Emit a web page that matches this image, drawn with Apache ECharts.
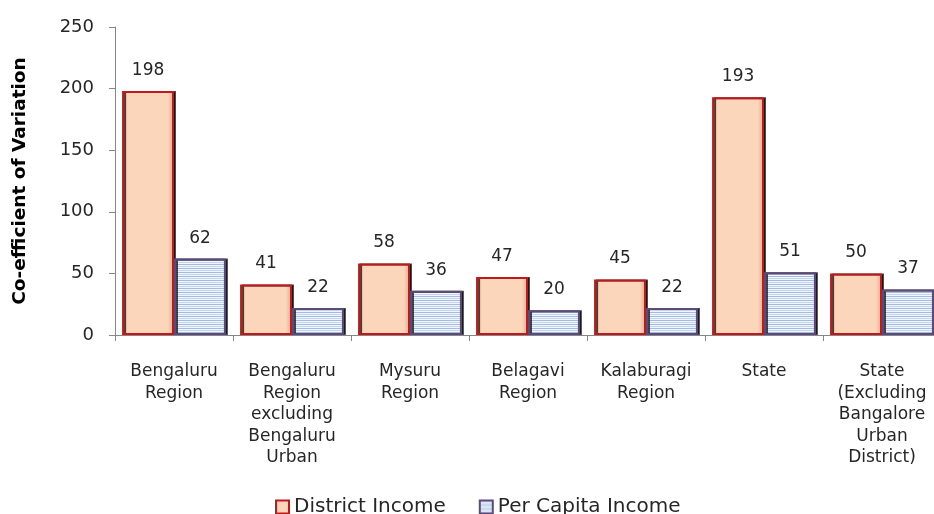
<!DOCTYPE html>
<html><head><meta charset="utf-8">
<script src="https://cdn.jsdelivr.net/npm/echarts@6/dist/echarts.min.js"></script>
<style>html,body{margin:0;padding:0;background:#fff;overflow:hidden}#c{width:934px;height:514px}</style>
</head><body><div id="c"></div>
<script>
var categories = ["Bengaluru\nRegion", "Bengaluru\nRegion\nexcluding\nBengaluru\nUrban", "Mysuru\nRegion", "Belagavi\nRegion", "Kalaburagi\nRegion", "State", "State\n(Excluding\nBangalore\nUrban\nDistrict)"];
var districtIncome = [198, 41, 58, 47, 45, 193, 50];
var perCapitaIncome = [62, 22, 36, 20, 22, 51, 37];
var seriesNames = ["District Income", "Per Capita Income"];
var yTicks = [0, 50, 100, 150, 200, 250];

function stripePattern() {
  var c = document.createElement('canvas');
  c.width = 4; c.height = 4;
  var g = c.getContext('2d');
  g.fillStyle = '#f2f6fc'; g.fillRect(0, 0, 4, 4);
  g.fillStyle = '#9fbde2'; g.fillRect(0, 0, 4, 1);
  g.fillStyle = '#c3d6ee'; g.fillRect(0, 2, 4, 1);
  return c;
}
var FONT = 'DejaVu Sans';
var chart = echarts.init(document.getElementById('c'));
chart.setOption({
  animation: false,
  textStyle: {fontFamily: FONT, color: '#262626'},
  grid: {left: 115, right: -7, top: 27, bottom: 179, containLabel: false, outerBoundsMode: 'none'},
  legend: {
    top: 492, left: 270, itemWidth: 13, itemHeight: 13, itemGap: 33, icon: 'rect',
    textStyle: {fontSize: 20, color: '#262626', fontFamily: FONT},
    data: seriesNames
  },
  xAxis: {
    type: 'category', data: categories,
    axisLine: {lineStyle: {color: '#868686', width: 1}},
    axisTick: {show: true, length: 6, lineStyle: {color: '#868686'}},
    axisLabel: {interval: 0, fontSize: 17, lineHeight: 21.5, color: '#262626', margin: 26, fontFamily: FONT}
  },
  yAxis: {
    type: 'value', min: yTicks[0], max: yTicks[yTicks.length - 1], interval: 50,
    name: 'Co-efficient of Variation', nameLocation: 'middle', nameGap: 85,
    nameTextStyle: {fontSize: 18.5, fontWeight: 'bold', color: '#000', fontFamily: FONT},
    axisLine: {show: true, lineStyle: {color: '#868686'}},
    axisTick: {show: true, length: 6, lineStyle: {color: '#868686'}},
    splitLine: {show: false},
    axisLabel: {fontSize: 18, color: '#262626', margin: 21, fontFamily: FONT}
  },
  series: [
    {
      name: seriesNames[0], type: 'bar', data: districtIncome,
      barGap: '0%', barCategoryGap: '12%',
      itemStyle: {
        color: {type: 'linear', x: 0, y: 0, x2: 1, y2: 0, colorStops: [
          {offset: 0, color: '#f2b998'}, {offset: 0.12, color: '#fcd6bb'},
          {offset: 0.88, color: '#fcd6bb'}, {offset: 1, color: '#e0a888'}]},
        borderColor: '#c0191c', borderWidth: 2,
        shadowColor: 'rgba(0,0,0,0.7)', shadowOffsetX: 2, shadowOffsetY: 0, shadowBlur: 0
      },
      label: {show: true, position: 'top', distance: 12, fontSize: 17, color: '#262626', fontFamily: FONT}
    },
    {
      name: seriesNames[1], type: 'bar', data: perCapitaIncome,
      itemStyle: {
        color: {image: stripePattern(), repeat: 'repeat'},
        borderColor: '#5b4a7a', borderWidth: 2,
        shadowColor: 'rgba(0,0,0,0.7)', shadowOffsetX: 2, shadowOffsetY: 0, shadowBlur: 0
      },
      label: {show: true, position: 'top', distance: 12, fontSize: 17, color: '#262626', fontFamily: FONT}
    }
  ]
});
</script></body></html>
